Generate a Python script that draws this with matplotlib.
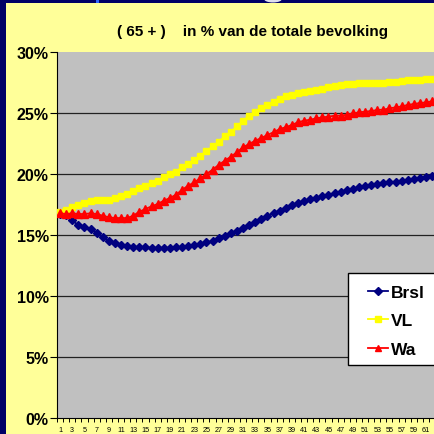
import matplotlib
matplotlib.use("Agg")
import matplotlib.pyplot as plt
from matplotlib.patches import Rectangle, Ellipse
from matplotlib.ticker import FixedLocator, FuncFormatter, NullFormatter

plt.rcParams['font.family'] = ['Liberation Sans', 'DejaVu Sans']

title = "( 65 + )    in % van de totale bevolking"
series_names = ["Brsl", "VL", "Wa"]

brsl = [16.72, 16.6, 16.2, 15.8, 15.65, 15.5, 15.2, 14.8, 14.5, 14.35,
        14.2, 14.07, 14.05, 14.0, 13.98, 13.96, 13.95, 13.95, 13.96, 13.98,
        14.0, 14.12, 14.18, 14.3, 14.4, 14.5, 14.75, 14.9, 15.16, 15.35,
        15.57, 15.84, 16.07, 16.3, 16.58, 16.8, 17.0, 17.24, 17.45, 17.65,
        17.8, 17.92, 18.05, 18.18, 18.3, 18.43, 18.55, 18.68, 18.8, 18.92,
        19.02, 19.1, 19.18, 19.25, 19.32, 19.38, 19.45, 19.52, 19.6, 19.66,
        19.72, 19.8]
vl = [16.9, 17.07, 17.26, 17.46, 17.62, 17.8, 17.9, 17.87, 17.9, 18.0,
      18.17, 18.36, 18.63, 18.85, 19.04, 19.26, 19.45, 19.73, 20.0, 20.19,
      20.55, 20.82, 21.17, 21.5, 21.86, 22.27, 22.65, 23.09, 23.47, 23.9,
      24.37, 24.78, 25.1, 25.38, 25.65, 25.93, 26.15, 26.37, 26.5, 26.64,
      26.76, 26.83, 26.89, 26.97, 27.1, 27.19, 27.3, 27.35, 27.4, 27.43,
      27.43, 27.46, 27.49, 27.49, 27.51, 27.57, 27.65, 27.7, 27.73, 27.73,
      27.79, 27.79]
wa = [16.78, 16.72, 16.78, 16.72, 16.72, 16.78, 16.72, 16.58, 16.45, 16.39,
      16.39, 16.39, 16.58, 16.91, 17.13, 17.35, 17.54, 17.81, 18.03, 18.3,
      18.7, 19.04, 19.32, 19.65, 20.0, 20.35, 20.74, 21.09, 21.42, 21.78,
      22.19, 22.46, 22.73, 22.95, 23.2, 23.42, 23.69, 23.83, 24.02, 24.24,
      24.37, 24.45, 24.56, 24.64, 24.7, 24.78, 24.78, 24.86, 24.97, 25.05,
      25.11, 25.16, 25.25, 25.27, 25.38, 25.46, 25.54, 25.66, 25.74, 25.82,
      25.87, 25.96]
x = list(range(1, len(brsl) + 1))
x_labels = list(range(1, 62, 2))
y_ticks = [0, 5, 10, 15, 20, 25, 30]

W, H = 434, 435
fig = plt.figure(figsize=(W / 100, H / 100), dpi=100)
fig.patch.set_facecolor("#FFFF99")

# frame decorations
fig.patches.append(Rectangle((0, 1 - 4 / H), 1, 4 / H, transform=fig.transFigure,
                             facecolor="#000066", edgecolor="none", zorder=0))
fig.patches.append(Rectangle((0, 0), 6 / W, 1, transform=fig.transFigure,
                             facecolor="#000066", edgecolor="none", zorder=0))
fig.patches.append(Rectangle((96 / W, 1 - 4 / H), 3 / W, 4 / H, transform=fig.transFigure,
                             facecolor="#3366FF", edgecolor="none", zorder=1))
fig.patches.append(Ellipse((273 / W, 1 - 0 / H), 18 / W, 7 / H, transform=fig.transFigure,
                           facecolor="#DDDDEE", edgecolor="none", zorder=1))

K = 70
spacing = 6.1
left_px, top_px, bottom_px = 57, 53, 419
ax = fig.add_axes([left_px / W, (H - bottom_px) / H, K * spacing / W, (bottom_px - top_px) / H])
ax.set_facecolor("#C0C0C0")
ax.set_xlim(0.5, 0.5 + K)
ax.set_ylim(0, 30)

for g in y_ticks[1:-1]:
    ax.axhline(g, color="#222222", lw=0.9, zorder=1)

ax.plot(x, brsl, color="#000080", lw=1.3, marker="D", ms=4.4, mec="#000080",
        mfc="#000080", label=series_names[0], zorder=3)
ax.plot(x, vl, color="#FFFF00", lw=1.3, marker="s", ms=4.8, mec="#FFFF00",
        mfc="#FFFF00", label=series_names[1], zorder=4)
ax.plot(x, wa, color="#FF0000", lw=1.3, marker="^", ms=5.4, mec="#FF0000",
        mfc="#FF0000", label=series_names[2], zorder=5)

for s in ["top", "right"]:
    ax.spines[s].set_visible(False)
ax.spines["left"].set_color("#000000")
ax.spines["bottom"].set_color("#000000")
ax.spines["left"].set_linewidth(0.8)
ax.spines["bottom"].set_linewidth(0.8)

ax.yaxis.set_major_locator(FixedLocator(y_ticks))
ax.yaxis.set_major_formatter(FuncFormatter(lambda v, p: f"{int(v)}%"))
ax.tick_params(axis="y", direction="out", length=5, width=0.8, pad=1,
               labelsize=11.5)
for t in ax.get_yticklabels():
    t.set_fontweight("bold")

ax.xaxis.set_major_locator(FixedLocator(x_labels))
ax.xaxis.set_major_formatter(FuncFormatter(lambda v, p: f"{int(v)}"))
ax.xaxis.set_minor_locator(FixedLocator([i + 0.5 for i in range(0, K + 1)]))
ax.xaxis.set_minor_formatter(NullFormatter())
ax.tick_params(axis="x", which="major", length=0, pad=6, labelsize=5.2)
ax.tick_params(axis="x", which="minor", direction="out", length=3, width=0.7)

fig.text(252 / W, 1 - 32 / H, title, ha="center", va="center",
         fontsize=11, fontweight="bold")

# legend box (extends past the right edge, as in the reference)
box = Rectangle((348 / W, 1 - 366 / H), 100 / W, 92 / H,
                transform=fig.transFigure, facecolor="#FFFFFF",
                edgecolor="#000000", linewidth=1.0, zorder=9, clip_on=False)
ax.add_patch(box)
leg = ax.legend(loc="upper left", bbox_to_anchor=(365 / W, 1 - 282 / H),
                bbox_transform=fig.transFigure, frameon=False,
                prop={"weight": "bold", "size": 12.5}, handlelength=1.15,
                handletextpad=0.15, borderpad=0.2, labelspacing=0.78,
                borderaxespad=0, markerscale=0.9)
leg.set_zorder(10)

fig.savefig("out.png", dpi=100, facecolor=fig.get_facecolor())
